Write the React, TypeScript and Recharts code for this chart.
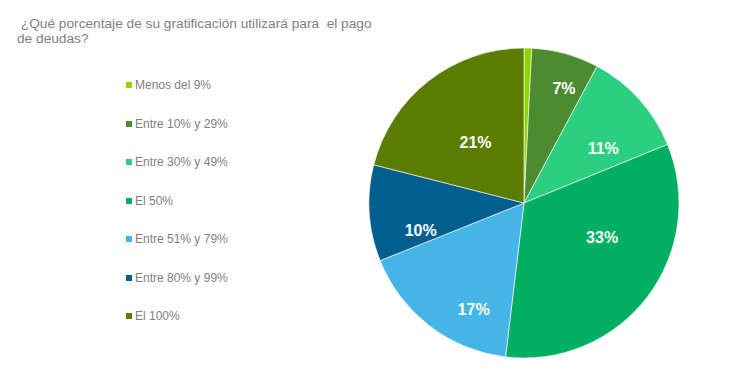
import { Cell, Pie, PieChart } from "recharts";

const categories = [
  "Menos del 9%",
  "Entre 10% y 29%",
  "Entre 30% y 49%",
  "El 50%",
  "Entre 51% y 79%",
  "Entre 80% y 99%",
  "El 100%",
];
const shares = [0.8, 7, 11, 33, 17, 10, 21];
const colors = ["#8fd400", "#4b8c30", "#2bcf7f", "#00af64", "#44b5e6", "#005f8e", "#5a7c00"];

// label placement like the original "best fit": radius factor, clockwise angle shift (deg)
const labelRadius = [0, 0.78, 0.62, 0.55, 0.76, 0.69, 0.5];
const labelShift = [0, 3.8, 7.6, -13.7, -12.2, -11.3, -0.8];

const data = categories.map((name, i) => ({ name, value: shares[i] }));

const RAD = Math.PI / 180;
const font = "'Liberation Sans', Arial, sans-serif";

function renderLabel(props: any) {
  const { cx, cy, midAngle, outerRadius, value, index } = props;
  if (value < 2) return null;
  const r = outerRadius * labelRadius[index];
  const a = midAngle - labelShift[index];
  const x = cx + r * Math.cos(-a * RAD);
  const y = cy + r * Math.sin(-a * RAD);
  return (
    <text
      x={x}
      y={y}
      fill="#ffffff"
      textAnchor="middle"
      dominantBaseline="central"
      style={{ fontSize: 16, fontWeight: 700, fontFamily: font }}
    >
      {`${Math.round(value)}%`}
    </text>
  );
}

function LegendList() {
  return (
    <div style={{ position: "absolute", left: 126, top: 66, fontFamily: font, fontSize: 12, color: "#7f7f7f" }}>
      {categories.map((name, i) => (
        <div key={name} style={{ display: "flex", alignItems: "center", height: 38.5 }}>
          <span style={{ width: 6, height: 6, background: colors[i], marginRight: 3, display: "inline-block" }} />
          <span>{name}</span>
        </div>
      ))}
    </div>
  );
}

export default function App() {
  return (
    <div style={{ position: "relative", width: 750, height: 375, margin: -8, background: "#fff" }}>
      <div
        style={{
          position: "absolute",
          left: 17,
          top: 16,
          width: 400,
          fontFamily: font,
          fontSize: 13.7,
          lineHeight: "15px",
          color: "#7f7f7f",
          whiteSpace: "pre-wrap",
        }}
      >
        {" ¿Qué porcentaje de su gratificación utilizará para  el pago\nde deudas?"}
      </div>
      <LegendList />
      <PieChart width={750} height={375} margin={{ top: 0, right: 0, bottom: 0, left: 0 }}>
        <Pie
          data={data}
          dataKey="value"
          nameKey="name"
          cx={524}
          cy={203}
          outerRadius={155}
          startAngle={90}
          endAngle={-270}
          stroke="#ffffff"
          strokeWidth={0.6}
          label={renderLabel}
          labelLine={false}
          isAnimationActive={false}
        >
          {data.map((d, i) => (
            <Cell key={d.name} fill={colors[i]} />
          ))}
        </Pie>
      </PieChart>
    </div>
  );
}
